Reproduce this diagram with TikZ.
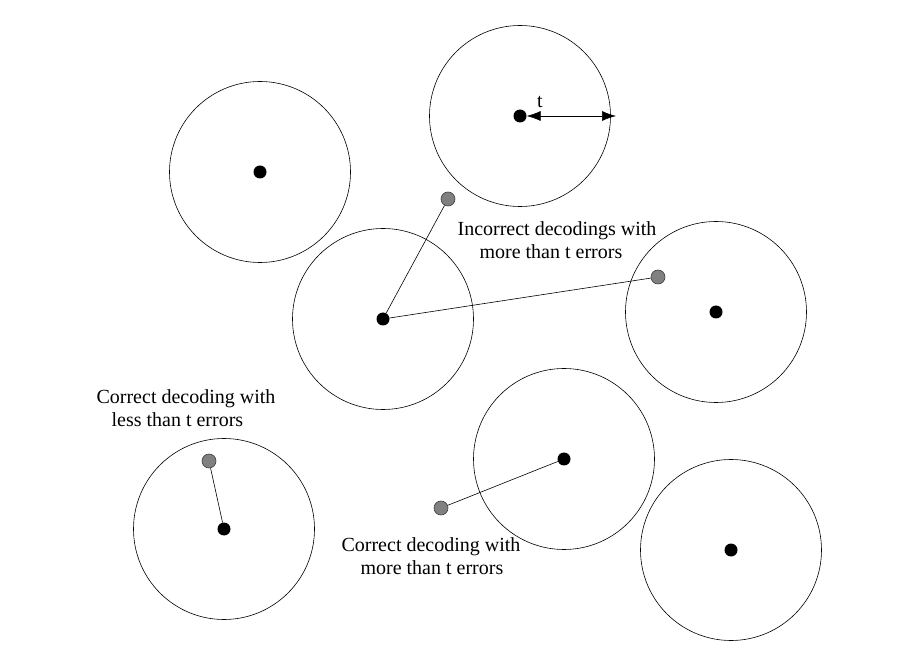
\documentclass[tikz,border=0pt]{standalone}
\usepackage{fontspec}
\setmainfont{Liberation Serif}
\usetikzlibrary{arrows.meta,positioning}
\tikzstyle{line} = [draw, line width=.6pt]
\begin{document}
\begin{tikzpicture}[x=1pt,y=-1pt,
    region/.style={
      draw,
      circle,
      minimum size=181pt,
      inner sep=0pt,
      line width=.6pt
    },
    codeword/.style={
      circle,
      fill=black,
      minimum size=13pt,
      inner sep=0pt
    },
    received/.style={
      circle,
      draw=black!75,
      fill=gray,
      minimum size=14pt,
      inner sep=0pt,
      line width=.6pt
    },
    note/.style={
      font=\fontsize{20}{22.5}\selectfont,
      align=left,
      inner sep=0pt
    }
  ]
  \useasboundingbox (0,0) rectangle (922,652);

  % decoding spheres
  \node[region] (r1) at (260,172) {};
  \node[region] (r2) at (520,116) {};
  \node[region] (r3) at (383,319) {};
  \node[region] (r4) at (716,312) {};
  \node[region] (r5) at (564,459) {};
  \node[region] (r6) at (224,529) {};
  \node[region] (r7) at (731,550) {};

  % codewords
  \node[codeword] (w1) at (r1) {};
  \node[codeword] (w2) at (r2) {};
  \node[codeword] (w3) at (r3) {};
  \node[codeword] (w4) at (r4) {};
  \node[codeword] (w5) at (r5) {};
  \node[codeword] (w6) at (r6) {};
  \node[codeword] (w7) at (r7) {};

  % received words
  \node[received] (e1) at (448,199) {};
  \node[received] (e2) at (658,277) {};
  \node[received] (e3) at (209,461) {};
  \node[received] (e4) at (441,508) {};

  \draw[line] (w3) -- (e1);
  \draw[line] (w3) -- (e2);
  \draw[line] (w6) -- (e3);
  \draw[line] (w5) -- (e4);

  % radius
  \coordinate (tend) at (616,116);
  \draw[line, {Latex[length=14pt,width=10pt]}-{Latex[length=14pt,width=10pt]}] (w2) -- (tend);
  \node[note] (tlabel) at (540,102) {t};

  \node[note] (incorrect) at (557,240) {Incorrect decodings with\\\hspace*{22pt}more than t errors};
  \node[note] (less) at (186,408) {Correct decoding with\\\hspace*{15pt}less than t errors};
  \node[note] (more) at (431,556) {Correct decoding with\\\hspace*{19pt}more than t errors};

\end{tikzpicture}
\end{document}
